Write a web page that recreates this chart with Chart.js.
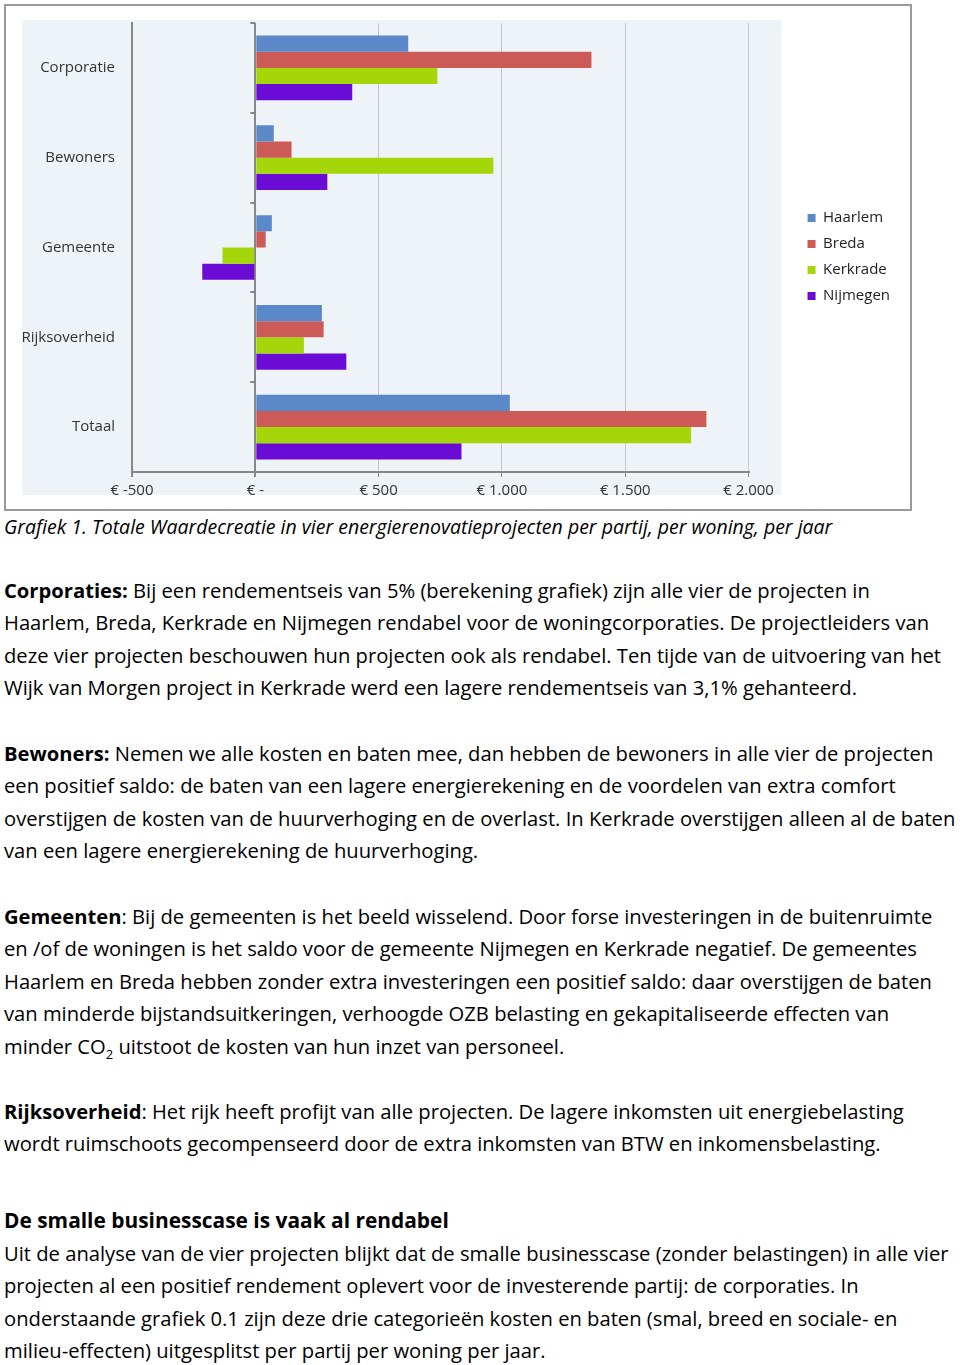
<!DOCTYPE html>
<html>
<head>
<meta charset="utf-8">
<script src="https://cdn.jsdelivr.net/npm/chart.js@4/dist/chart.umd.min.js"></script>
<style>
  body { margin: 0; background: #fff; width: 960px; height: 1365px; position: relative; overflow: hidden; font-family: "Open Sans", sans-serif; color: #000; }
  #frame { position: absolute; left: 4px; top: 4px; width: 908px; height: 507px; border: 2px solid #9a9a9a; box-sizing: border-box; background: #fff; }
  #frame canvas { display: block; }
  .caption { position: absolute; left: 4px; top: 516px; font-style: italic; font-size: 19.5px; line-height: 22px; white-space: nowrap; }
  .para { position: absolute; left: 4px; font-size: 20.2px; line-height: 32.6px; white-space: nowrap; }
  .para div { height: 32.6px; }
  .head { position: absolute; left: 4px; top: 1203.7px; font-size: 20.9px; font-weight: bold; line-height: 32.6px; white-space: nowrap; }
  sub { font-size: 13px; line-height: 0; }
</style>
</head>
<body>
<div id="frame"><canvas id="chart" width="904" height="503"></canvas></div>

<div class="caption">Grafiek 1. Totale Waardecreatie in vier energierenovatieprojecten per partij, per woning, per jaar</div>

<div class="para" style="top:573.7px">
  <div><b>Corporaties:</b> Bij een rendementseis van 5% (berekening grafiek) zijn alle vier de projecten in</div>
  <div>Haarlem, Breda, Kerkrade en Nijmegen rendabel voor de woningcorporaties. De projectleiders van</div>
  <div>deze vier projecten beschouwen hun projecten ook als rendabel. Ten tijde van de uitvoering van het</div>
  <div>Wijk van Morgen project in Kerkrade werd een lagere rendementseis van 3,1% gehanteerd.</div>
</div>

<div class="para" style="top:736.7px">
  <div><b>Bewoners:</b> Nemen we alle kosten en baten mee, dan hebben de bewoners in alle vier de projecten</div>
  <div>een positief saldo: de baten van een lagere energierekening en de voordelen van extra comfort</div>
  <div>overstijgen de kosten van de huurverhoging en de overlast. In Kerkrade overstijgen alleen al de baten</div>
  <div>van een lagere energierekening de huurverhoging.</div>
</div>

<div class="para" style="top:899.7px">
  <div><b>Gemeenten</b>: Bij de gemeenten is het beeld wisselend. Door forse investeringen in de buitenruimte</div>
  <div>en /of de woningen is het saldo voor de gemeente Nijmegen en Kerkrade negatief. De gemeentes</div>
  <div>Haarlem en Breda hebben zonder extra investeringen een positief saldo: daar overstijgen de baten</div>
  <div>van minderde bijstandsuitkeringen, verhoogde OZB belasting en gekapitaliseerde effecten van</div>
  <div>minder CO<sub>2</sub> uitstoot de kosten van hun inzet van personeel.</div>
</div>

<div class="para" style="top:1094.7px">
  <div><b>Rijksoverheid</b>: Het rijk heeft profijt van alle projecten. De lagere inkomsten uit energiebelasting</div>
  <div>wordt ruimschoots gecompenseerd door de extra inkomsten van BTW en inkomensbelasting.</div>
</div>

<div class="head">De smalle businesscase is vaak al rendabel</div>

<div class="para" style="top:1236.7px">
  <div>Uit de analyse van de vier projecten blijkt dat de smalle businesscase (zonder belastingen) in alle vier</div>
  <div>projecten al een positief rendement oplevert voor de investerende partij: de corporaties. In</div>
  <div>onderstaande grafiek 0.1 zijn deze drie categorieën kosten en baten (smal, breed en sociale- en</div>
  <div>milieu-effecten) uitgesplitst per partij per woning per jaar.</div>
</div>

<script>
// categories and series (euro per woning per jaar)
const categories = ['Corporatie', 'Bewoners', 'Gemeente', 'Rijksoverheid', 'Totaal'];
const haarlem  = [620, 75, 67, 270, 1032];
const breda    = [1363, 147, 42, 277, 1829];
const kerkrade = [738, 965, -133, 197, 1767];
const nijmegen = [393, 292, -215, 369, 836];

// x axis ticks
const tickValues = [-500, 0, 500, 1000, 1500, 2000];
const tickLabels = ['€ -500', '€ -', '€ 500', '€ 1.000', '€ 1.500', '€ 2.000'];

const axisDark = '#878787';
const gridLight = '#c2c6ca';

// light plot background behind axes and bars
const plotBackground = {
    id: 'plotBackground',
    beforeDraw(chart) {
        const a = chart.chartArea;
        const ctx = chart.ctx;
        ctx.save();
        ctx.fillStyle = '#eef3f7';
        ctx.fillRect(a.left - 110, a.top - 3, a.right - a.left + 143, a.bottom - a.top + 26);
        ctx.restore();
    }
};

// little category ticks on the zero line
const zeroTicks = {
    id: 'zeroTicks',
    afterDraw(chart) {
        const x = chart.scales.x.getPixelForValue(0);
        const y = chart.scales.y;
        const ctx = chart.ctx;
        ctx.save();
        ctx.strokeStyle = axisDark;
        ctx.lineWidth = 2;
        for (let i = 0; i <= categories.length; i++) {
            const py = Math.round(y.getPixelForValue(i - 0.5));
            ctx.beginPath();
            ctx.moveTo(x - 5, py);
            ctx.lineTo(x, py);
            ctx.stroke();
        }
        ctx.restore();
    }
};

// nudge the legend a bit up and left
const legendNudge = {
    id: 'legendNudge',
    afterLayout(chart) {
        const lg = chart.legend;
        if (!lg) return;
        lg.top -= 9; lg.bottom -= 9;
        lg.left -= 3; lg.right -= 3;
    }
};

new Chart(document.getElementById('chart').getContext('2d'), {
    type: 'bar',
    data: {
        labels: categories,
        datasets: [
            { label: 'Haarlem',  data: haarlem,  backgroundColor: '#5a88c8' },
            { label: 'Breda',    data: breda,    backgroundColor: '#cc5a56' },
            { label: 'Kerkrade', data: kerkrade, backgroundColor: '#a4d60a' },
            { label: 'Nijmegen', data: nijmegen, backgroundColor: '#6b0cd6' }
        ]
    },
    options: {
        indexAxis: 'y',
        responsive: false,
        animation: false,
        categoryPercentage: 0.72,
        barPercentage: 1,
        layout: { padding: { top: 17, left: 0, right: 7, bottom: 0 } },
        plugins: {
            tooltip: { enabled: false },
            legend: {
                position: 'right',
                labels: {
                    boxWidth: 8,
                    boxHeight: 8,
                    padding: 11,
                    color: '#222',
                    font: { family: 'Open Sans', size: 15 }
                }
            }
        },
        scales: {
            x: {
                type: 'linear',
                min: -500,
                max: 2000,
                afterBuildTicks: (scale) => { scale.ticks = tickValues.map(v => ({ value: v })); },
                afterFit: (scale) => { scale.height = 37; },
                ticks: {
                    callback: (v) => tickLabels[tickValues.indexOf(v)],
                    color: '#333',
                    padding: 5,
                    maxRotation: 0,
                    font: { family: 'Open Sans', size: 15 }
                },
                grid: {
                    color: (c) => (c.tick && (c.tick.value === 0 || c.tick.value === -500)) ? axisDark : gridLight,
                    lineWidth: (c) => (c.tick && (c.tick.value === 0 || c.tick.value === -500)) ? 2 : 1,
                    tickColor: axisDark,
                    tickLength: 5
                },
                border: { color: axisDark, width: 2 }
            },
            y: {
                afterFit: (scale) => { scale.width = 126; scale.paddingTop = 0; scale.paddingBottom = 0; },
                ticks: {
                    color: '#333',
                    padding: 17,
                    font: { family: 'Open Sans', size: 15 }
                },
                grid: { display: false, drawTicks: false },
                border: { color: axisDark, width: 2 }
            },
            // empty spacer between plot and legend
            gap: {
                type: 'category',
                axis: 'y',
                position: 'right',
                afterFit: (scale) => { scale.width = 51; scale.paddingTop = 0; scale.paddingBottom = 0; },
                ticks: { display: false },
                grid: { display: false, drawTicks: false },
                border: { display: false }
            }
        }
    },
    plugins: [plotBackground, zeroTicks, legendNudge]
});
</script>
</body>
</html>
